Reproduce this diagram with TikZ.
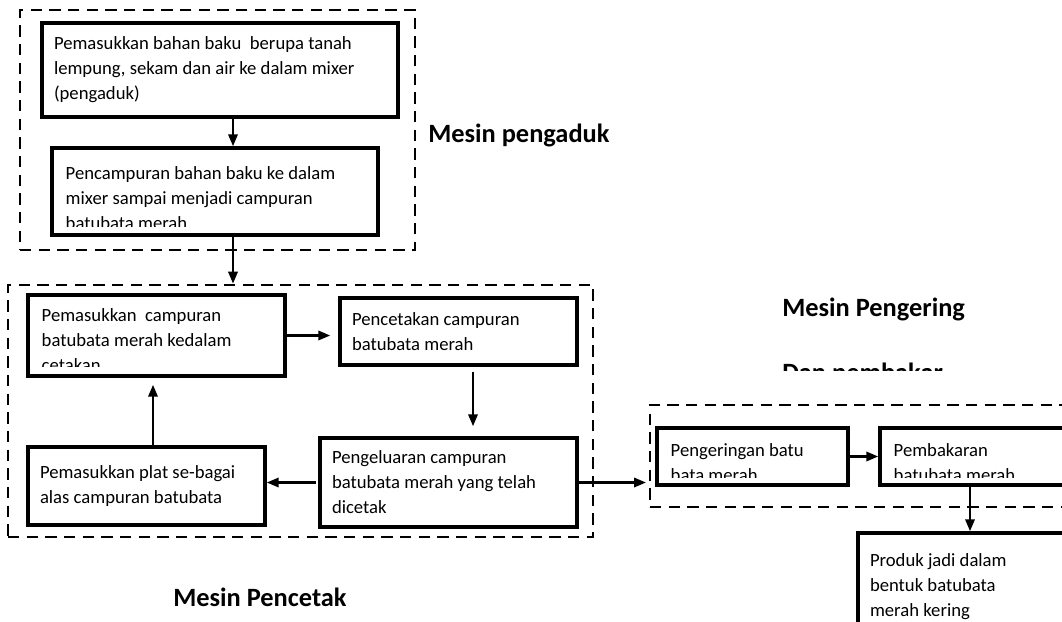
\documentclass[tikz,border=0pt]{standalone}
\usepackage{fontspec}
\setmainfont{Carlito}
\usetikzlibrary{arrows.meta,calc}
\newcommand\teks{\fontsize{14}{18.75}\selectfont}
\newcommand\hurufjudul{\fontsize{19.8}{24}\selectfont\bfseries}

\begin{document}
\begin{tikzpicture}[x=0.75pt, y=-0.75pt,
        boks/.style={draw, line width=2.6pt, align=flush left, inner xsep=9pt, font=\teks},
        isi/.style={anchor=north west, align=flush left, inner xsep=9pt, font=\teks,
            draw=none, minimum width=0pt, minimum height=0pt},
        bingkai/.style={draw, line width=2pt, dash pattern=on 8.5pt off 5.5pt, inner sep=0pt},
        panah/.style={line width=1.8pt, -{Triangle[length=9pt,width=7pt]}},
        judul/.style={anchor=west, inner sep=0pt, font=\hurufjudul}]
        \useasboundingbox (0,0) rectangle (1062,621);
        \clip (0,0) rectangle (1062,621);

        % bingkai tiap mesin
        \node[bingkai, minimum width=296.25pt, minimum height=180pt] (mesin1) at (217.5,130) {};
        \node[bingkai, minimum width=438.75pt, minimum height=189pt] (mesin2) at (300.5,411) {};
        \node[bingkai, minimum width=322.5pt, minimum height=76.5pt] (mesin3) at (865,456) {};

        \node[boks, text width=249pt, minimum height=70.5pt] (a) at (220,70)
            {Pemasukkan bahan baku\ \ berupa tanah\\lempung, sekam dan air ke dalam mixer\\(pengaduk)};
        \node[boks, minimum width=244.5pt, minimum height=65.25pt,
            path picture={\clip (path picture bounding box.north west) rectangle ([yshift=6.5pt]path picture bounding box.south east);
            \node[isi, inner ysep=12.75pt] (tb) at (path picture bounding box.north west)
            {Pencampuran bahan baku ke dalam\\mixer sampai menjadi campuran\\batubata merah};}] (b) at (215,191.5) {};

        \node[boks, minimum width=192.75pt, minimum height=60.75pt,
            path picture={\clip (path picture bounding box.north west) rectangle ([yshift=7pt]path picture bounding box.south east);
            \node[isi, inner ysep=9pt] (tc) at (path picture bounding box.north west)
            {Pemasukkan\ \ campuran\\batubata merah kedalam\\cetakan};}] (c) at (156.5,335.5) {};
        \node[boks, text width=159.75pt, minimum height=50.25pt] (d) at (458.5,331.5)
            {Pencetakan campuran\\batubata merah};
        \node[boks, text width=174.75pt, minimum height=66.75pt] (e) at (448.5,482.5)
            {Pengeluaran campuran\\batubata merah yang telah\\dicetak};
        \node[boks, text width=159.75pt, minimum height=58.5pt] (f) at (146.5,486)
            {Pemasukkan plat se-bagai\\alas campuran batubata};

        \node[boks, minimum width=143.25pt, minimum height=42.75pt,
            path picture={\clip (path picture bounding box.north west) rectangle ([yshift=6pt]path picture bounding box.south east);
            \node[isi, inner ysep=10.5pt] (tg) at (path picture bounding box.north west)
            {Pengeringan batu\\bata merah};}] (g) at (752.5,456.5) {};
        \node[boks, minimum width=150pt, minimum height=42.75pt,
            path picture={\clip (path picture bounding box.north west) rectangle ([yshift=6pt]path picture bounding box.south east);
            \node[isi, inner ysep=10.5pt] (th) at (path picture bounding box.north west)
            {Pembakaran\\batubata merah};}] (h) at (980,456.5) {};
        \node[boks, text width=148.5pt, minimum height=80.25pt] (i) at (969,586.5)
            {Produk jadi dalam\\bentuk batubata\\merah kering};

        \draw[panah] ($(a.south)+(13,0)$) -- ($(b.north)+(18,0)$);
        \draw[panah] ($(b.south)+(18,0)$) -- ($(mesin2.north)+(-67.5,0)$);
        \draw[panah, shorten >=6pt] (c.east) -- (c.east -| d.west);
        \draw[panah] ($(d.south)+(14.5,5)$) -- ($(e.north)+(24.5,-10)$);
        \draw[panah, shorten <=2pt] (e.west) -- (e.west -| f.east);
        \draw[panah] ($(f.north)+(6.5,0)$) -- ($(c.south)+(-3.5,7)$);
        \draw[panah, shorten >=2pt] (e.east) -- (e.east -| mesin3.west);
        \draw[panah] (g.east) -- (h.west);
        \draw[panah] ($(h.south)+(-10,0)$) -- ($(i.north)+(1,0)$);

        \foreach \n/\x/\y/\t in {1/428/135/Mesin pengaduk, 2/173/597/Mesin Pencetak, 3/782/309/Mesin Pengering} {
            \node[judul] (judul\n) at (\x,\y) {\t};
        }
        \begin{scope}
            \clip (700,300) rectangle (1062,370);
            \node[judul] (judul4) at (782,374.5) {Dan pembakar};
        \end{scope}
\end{tikzpicture}
\end{document}
